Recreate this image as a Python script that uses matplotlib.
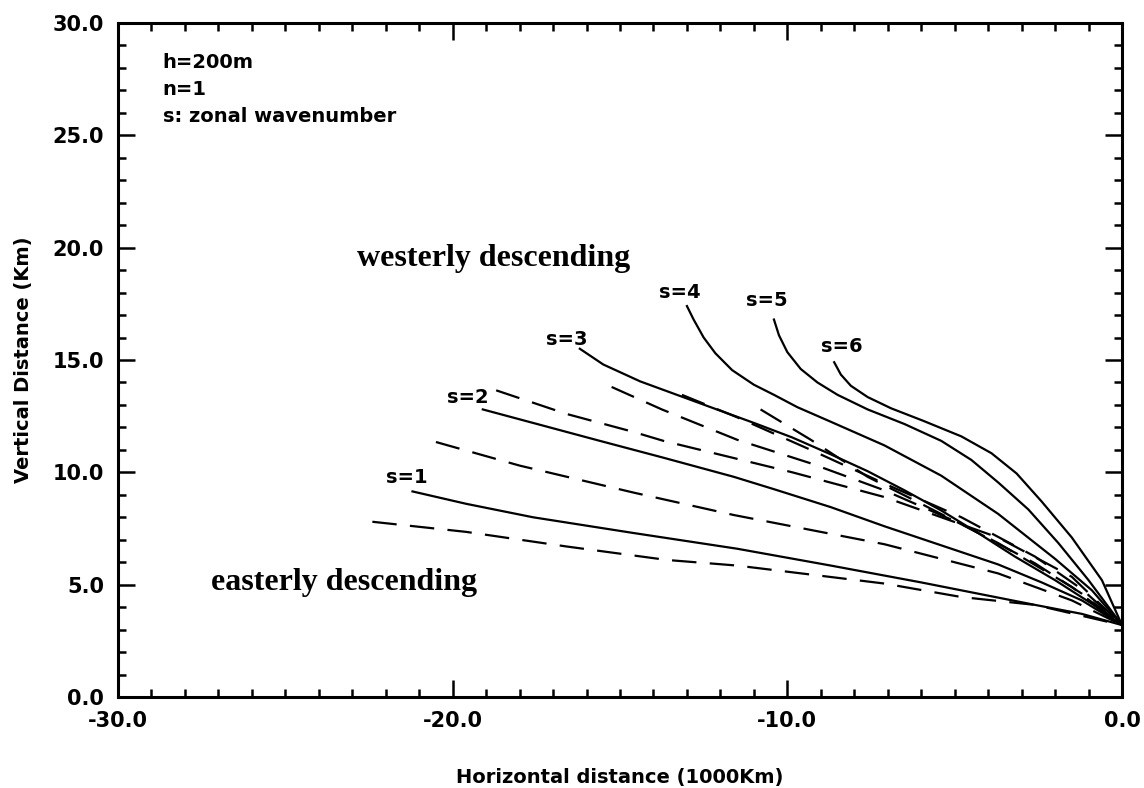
import matplotlib
matplotlib.use("Agg")
import matplotlib.pyplot as plt
from matplotlib.ticker import MultipleLocator, FormatStrFormatter

# ray paths, westerly (solid), zonal wavenumber s = 1..6
s1_x = [-21.2, -19.6, -17.6, -14.6, -11.5, -8.7, -6.0, -4.3, -2.6, -1.2, 0.0]
s1_y = [9.15, 8.6, 8.0, 7.3, 6.6, 5.85, 5.1, 4.6, 4.1, 3.7, 3.2]
s2_x = [-19.1, -17.6, -15.6, -13.7, -11.6, -10.4, -8.7, -7.1, -5.4, -3.7, -2.4, -1.2, 0.0]
s2_y = [12.8, 12.2, 11.4, 10.65, 9.8, 9.25, 8.45, 7.6, 6.75, 5.9, 5.1, 4.3, 3.2]
s3_x = [-16.2, -15.5, -14.4, -13.3, -12.2, -11.0, -9.85, -8.7, -7.6, -6.5, -5.4, -4.3,
        -3.2, -2.0, -0.9, 0.0]
s3_y = [15.5, 14.8, 14.05, 13.45, 12.85, 12.2, 11.55, 10.8, 10.05, 9.2, 8.3, 7.3,
        6.25, 5.2, 4.15, 3.2]
s4_x = [-13.0, -12.8, -12.5, -12.15, -11.65, -11.0, -10.4, -9.7, -8.7, -7.1, -5.4,
        -3.7, -2.0, -0.9, 0.0]
s4_y = [17.4, 16.8, 16.0, 15.3, 14.55, 13.9, 13.45, 12.9, 12.25, 11.2, 9.85,
        8.15, 6.15, 4.75, 3.2]
s5_x = [-10.4, -10.25, -10.0, -9.6, -9.1, -8.5, -7.6, -6.5, -5.4, -4.5, -3.7, -2.8,
        -1.9, -1.0, 0.0]
s5_y = [16.8, 16.1, 15.35, 14.6, 14.0, 13.45, 12.8, 12.15, 11.4, 10.55, 9.55, 8.35,
        6.85, 5.2, 3.2]
s6_x = [-8.6, -8.4, -8.1, -7.6, -6.9, -5.95, -4.8, -3.9, -3.15, -2.4, -1.5, -0.6, 0.0]
s6_y = [14.9, 14.35, 13.85, 13.35, 12.85, 12.3, 11.6, 10.85, 9.95, 8.7, 7.1, 5.2, 3.2]

# easterly rays (dashed)
d1_x = [-22.4, -19.6, -16.6, -13.6, -11.5, -7.1, -4.8, -2.6, 0.0]
d1_y = [7.8, 7.35, 6.7, 6.1, 5.85, 5.05, 4.45, 4.1, 3.2]
d2_x = [-20.5, -18.0, -14.6, -11.6, -7.1, -3.7, -1.5, 0.0]
d2_y = [11.35, 10.3, 9.1, 8.1, 6.8, 5.5, 4.3, 3.2]
d3_x = [-18.7, -16.6, -14.6, -13.7, -12.6, -9.85, -7.1, -3.7, -1.5, 0.0]
d3_y = [13.65, 12.6, 11.8, 11.4, 11.0, 10.0, 8.9, 7.1, 5.35, 3.2]
d4_x = [-15.25, -13.75, -11.5, -9.3, -7.1, -4.8, -2.6, -1.2, 0.0]
d4_y = [13.8, 12.8, 11.45, 10.4, 9.2, 7.7, 5.95, 4.6, 3.2]
d5_x = [-13.15, -11.5, -9.3, -7.1, -4.8, -2.6, -1.2, 0.0]
d5_y = [13.45, 12.45, 11.0, 9.5, 8.0, 6.25, 4.8, 3.2]
d6_x = [-10.8, -9.3, -7.6, -6.0, -3.7, -1.5, 0.0]
d6_y = [12.8, 11.45, 9.8, 8.6, 6.85, 4.9, 3.2]

s_labels = ["s=1", "s=2", "s=3", "s=4", "s=5", "s=6"]
s_label_x = [-21.37, -19.54, -16.6, -13.2, -10.6, -8.37]
s_label_y = [9.75, 13.35, 15.9, 18.0, 17.67, 15.6]

info_lines = ["h=200m", "n=1", "s: zonal wavenumber"]

solid = [(s1_x, s1_y), (s2_x, s2_y), (s3_x, s3_y), (s4_x, s4_y), (s5_x, s5_y), (s6_x, s6_y)]
dashed = [(d1_x, d1_y), (d2_x, d2_y), (d3_x, d3_y), (d4_x, d4_y), (d5_x, d5_y), (d6_x, d6_y)]

fig = plt.figure(figsize=(11.44, 7.88), dpi=100)
ax = fig.add_axes([118/1144, 91/788, 1004/1144, 674/788])

for x, y in solid:
    ax.plot(x, y, color="black", lw=1.6, solid_joinstyle="round")
for x, y in dashed:
    ax.plot(x, y, color="black", lw=1.6, dashes=(11, 6))

sfont = dict(family="DejaVu Sans", fontsize=14, fontweight="bold", color="black")
for lab, lx, ly in zip(s_labels, s_label_x, s_label_y):
    ax.text(lx, ly, lab, ha="center", va="center", **sfont)

for i, line in enumerate(info_lines):
    ax.text(-28.66, 28.26 - 1.2 * i, line, ha="left", va="center", **sfont)

serif = dict(family="Liberation Serif", fontsize=23, fontweight="bold", color="black")
ax.text(-14.7, 19.18, "westerly descending", ha="right", va="baseline", **serif)
ax.text(-19.27, 4.76, "easterly descending", ha="right", va="baseline", **serif)

ax.set_xlim(-30, 0)
ax.set_ylim(0, 30)
ax.xaxis.set_major_locator(MultipleLocator(10))
ax.xaxis.set_minor_locator(MultipleLocator(1))
ax.yaxis.set_major_locator(MultipleLocator(5))
ax.yaxis.set_minor_locator(MultipleLocator(1))
ax.xaxis.set_major_formatter(FormatStrFormatter("%.1f"))
ax.yaxis.set_major_formatter(FormatStrFormatter("%.1f"))
ax.tick_params(which="both", direction="in", top=True, right=True, width=1.8)
ax.tick_params(which="major", length=12, pad=10, labelsize=15)
ax.tick_params(which="minor", length=6)
for lab in ax.get_xticklabels() + ax.get_yticklabels():
    lab.set_fontweight("bold")
for sp in ax.spines.values():
    sp.set_linewidth(2.2)

fig.text(620/1144, 1 - 777/788, "Horizontal distance (1000Km)", ha="center", va="center",
         fontsize=14, fontweight="bold")
fig.text(24/1144, 1 - 360/788, "Vertical Distance (Km)", ha="center", va="center",
         rotation=90, fontsize=14, fontweight="bold")

fig.savefig("out.png", dpi=100)
